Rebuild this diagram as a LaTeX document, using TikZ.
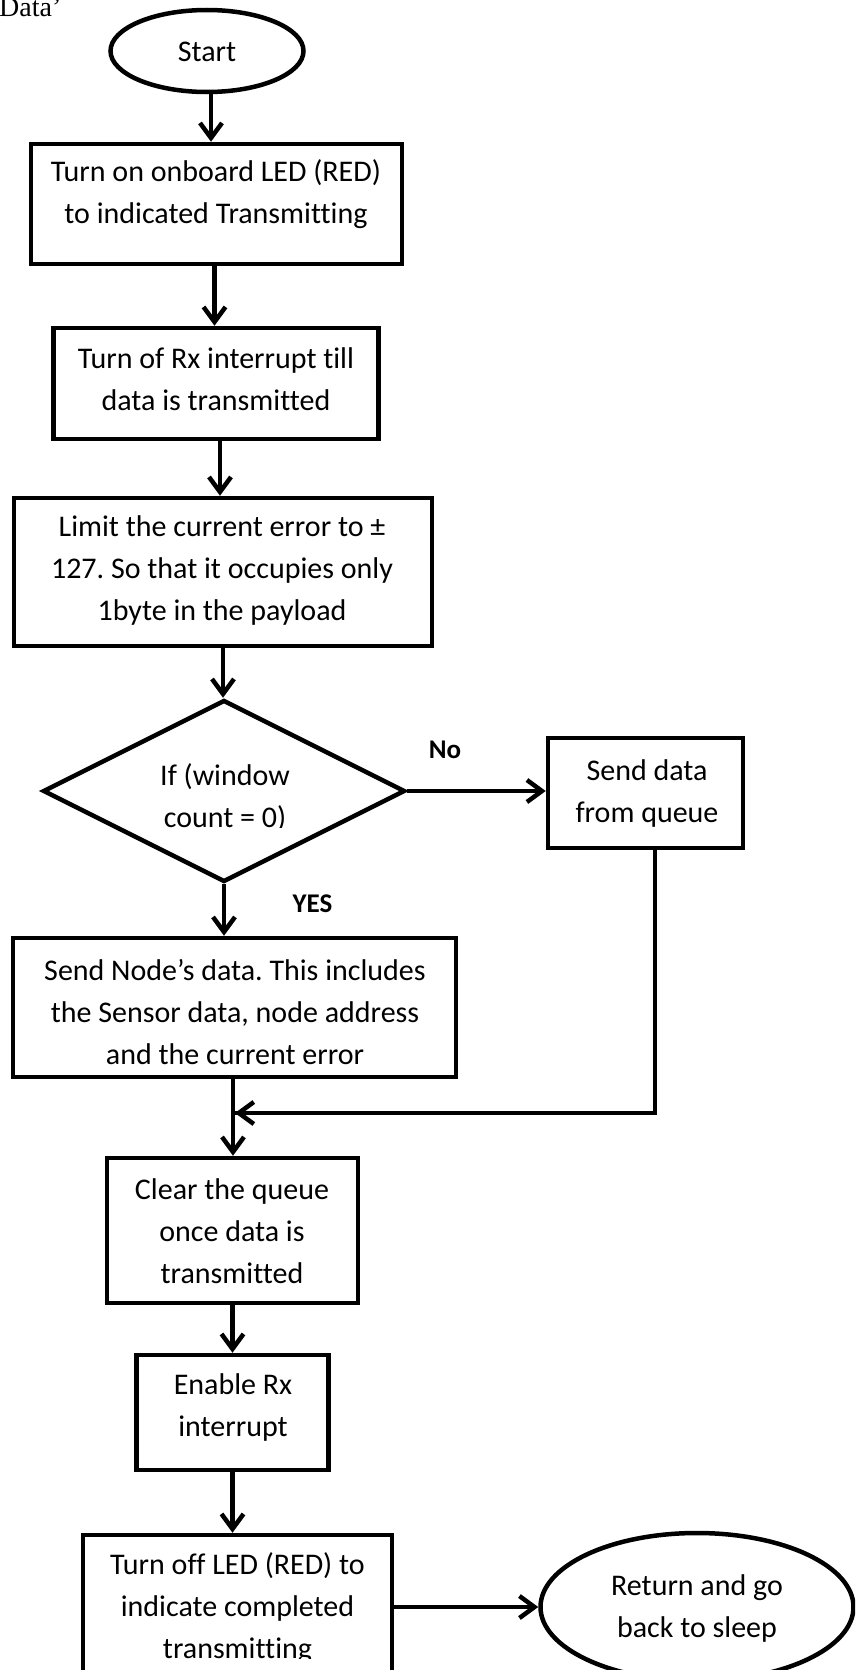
\documentclass[tikz,border=0pt]{standalone}
\usepackage{fontspec}
\setmainfont{Carlito}[Ligatures=NoCommon]
\newfontfamily\capfont{Liberation Serif}
\usetikzlibrary{shapes.geometric,arrows.meta}
\frenchspacing

\tikzset{
  stepbox/.style={draw, line width=4.5pt, rectangle, inner sep=0pt},
  oval/.style={draw, line width=4.5pt, ellipse, inner sep=0pt},
  decision/.style={draw, line width=4.5pt, diamond, inner sep=0pt},
  txt/.style={align=center, font=\fontsize{30}{42}\selectfont, inner sep=0pt},
  tag/.style={font=\fontsize{27}{30}\selectfont\bfseries, inner sep=0pt},
  arr/.style={line width=4.5pt, -{Straight Barb[length=15pt,width=22pt]}},
  link/.style={line width=4.5pt}
}

\begin{document}
\begin{tikzpicture}[x=1pt,y=-1pt]
\clip (0,0) rectangle (855,1670);
\useasboundingbox (0,0) rectangle (855,1670);

% caption fragment at the top edge
\node[anchor=base west, inner sep=0pt, font=\capfont\fontsize{28}{30}\selectfont] (cap) at (-1,17) {Data’};

% shapes
\node[oval, minimum width=193pt, minimum height=82pt] (start) at (207,51) {};
\node[txt] (startt) at (207,52) {Start};

\node[stepbox, minimum width=371pt, minimum height=120pt] (b1) at (216.5,204) {};
\node[txt] (b1t) at (216,194) {Turn on onboard LED (RED)\\to indicated Transmitting};

\node[stepbox, minimum width=325pt, minimum height=111pt] (b2) at (216,383.5) {};
\node[txt] (b2t) at (216,379) {Turn of Rx interrupt till\\data is transmitted};

\node[stepbox, minimum width=418pt, minimum height=148pt] (b3) at (223,572) {};
\node[txt] (b3t) at (222,570) {Limit the current error to ±\\127. So that it occupies only\\1byte in the payload};

\node[decision, minimum width=362pt, minimum height=182pt] (dec) at (224,791) {};
\begin{scope}
  \clip (100,740) rectangle (350,827);
  \node[txt] (dect) at (225,798) {If (window\\count = 0)};
\end{scope}

\node[tag] (no) at (445,750) {No};
\node[tag] (yes) at (312.5,904) {YES};

\node[stepbox, minimum width=195pt, minimum height=110pt] (queue) at (645.5,793) {};
\node[txt] (queuet) at (647,793.5) {Send data\\from queue};

\node[stepbox, minimum width=443pt, minimum height=139pt] (b4) at (234.5,1007.5) {};
\node[txt] (b4t) at (235,1012) {Send Node’s data. This includes\\the Sensor data, node address\\and the current error};

\node[stepbox, minimum width=251pt, minimum height=145pt] (clear) at (232.5,1230.5) {};
\node[txt] (cleart) at (232,1231) {Clear the queue\\once data is\\transmitted};

\node[stepbox, minimum width=192pt, minimum height=115pt] (rx) at (232.5,1412.5) {};
\node[txt] (rxt) at (233,1407) {Enable Rx\\interrupt};

\node[stepbox, minimum width=309pt, minimum height=200pt] (off) at (237.5,1635) {};
\begin{scope}
  \clip (80,1540) rectangle (400,1658);
  \node[txt] (offt) at (237.5,1608) {Turn off LED (RED) to\\indicate completed\\transmitting};
\end{scope}

\node[oval, minimum width=313pt, minimum height=148pt] (sleep) at (697,1607) {};
\node[txt] (sleept) at (697,1608) {Return and go\\back to sleep};

% connectors
\draw[arr] ([xshift=4pt]start.south) -- ([xshift=4pt]start.south |- b1.north);
\draw[arr] ([xshift=-2pt]b1.south) -- ([xshift=-2pt]b1.south |- b2.north);
\draw[arr] ([xshift=4pt]b2.south) -- ([xshift=4pt]b2.south |- b3.north);
\draw[arr] (b3.south) -- (b3.south |- dec.north);
\draw[arr] (dec.south) -- (dec.south |- b4.north);
\draw[arr] (dec.east) -- (dec.east -| queue.west);
\coordinate (merge) at (233,1113);
\draw[arr] ([xshift=-1.5pt]b4.south) -- ([xshift=-1.5pt]b4.south |- clear.north);
\draw[link, line join=miter] ([xshift=9.5pt]queue.south) |- ([xshift=2pt]merge);
\draw[arr] ([xshift=9.5pt]queue.south |- merge) -- ([xshift=2pt]merge);
\draw[arr] (clear.south) -- (clear.south |- rx.north);
\draw[arr] (rx.south) -- (rx.south |- off.north);
\draw[arr] (off.east |- sleep.west) -- (sleep.west);
\end{tikzpicture}
\end{document}
